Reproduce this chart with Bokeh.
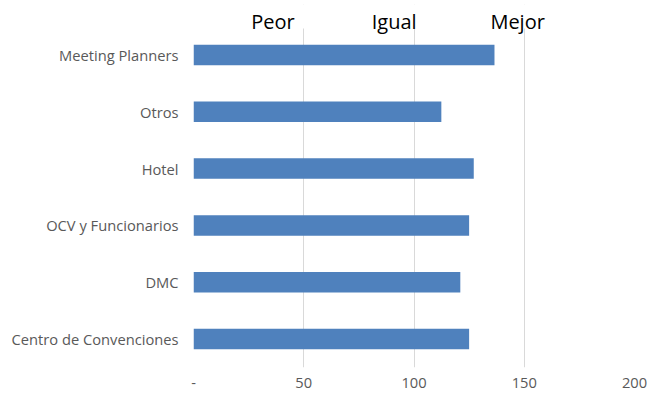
from bokeh.plotting import figure
from bokeh.models import FixedTicker, Range1d, BoxAnnotation
from bokeh.core.properties import value
from bokeh.embed import file_html
from bokeh.resources import INLINE

categories = ["Meeting Planners", "Otros", "Hotel", "OCV y Funcionarios", "DMC", "Centro de Convenciones"]
values = [136.5, 112.4, 127.1, 125.0, 121.0, 125.0]
x_ticks = [0, 50, 100, 150, 200]
x_tick_labels = ["-", "50", "100", "150", "200"]
top_labels = ["Peor", "Igual", "Mejor"]
top_label_x = [36, 91, 147]

FONT = "Open Sans"
W, H = 647, 400
LEFT, RIGHT = 193, 13
FRAME_TOP, BAND_TOP, BAND_BOTTOM = 4, 26, 367
n = len(categories)
band_px = (BAND_BOTTOM - BAND_TOP) / n
y_top = n - 0.5 + (BAND_TOP - FRAME_TOP) / band_px

# category positions: first category at the top
y_pos = [n - 1 - i for i in range(n)]

p = figure(x_range=Range1d(0, 200), y_range=Range1d(-0.5, y_top),
           width=W, height=H, output_backend="svg", toolbar_location=None,
           min_border_left=LEFT, min_border_right=RIGHT,
           min_border_top=FRAME_TOP, min_border_bottom=H - BAND_BOTTOM)

p.outline_line_color = None
p.background_fill_color = "white"
p.border_fill_color = "white"

p.ygrid.grid_line_color = None
p.xgrid.grid_line_color = "#D9D9D9"
p.xgrid.grid_line_width = 1

# keep the grid out of the header strip that holds the scale words
p.add_layout(BoxAnnotation(bottom=n - 0.5 - 2 / band_px, fill_color="white", fill_alpha=1,
                           line_color=None, level="underlay"))

p.hbar(y=y_pos, right=values, left=0, height=0.36, color="#4F81BD", line_color=None)

p.text(x=top_label_x, y=[n - 0.5 + 5 / band_px] * len(top_labels), text=top_labels,
       text_align="center", text_baseline="middle",
       text_font=value(FONT), text_font_size="20px", text_color="#000000")

p.xaxis.ticker = FixedTicker(ticks=x_ticks)
p.xaxis.major_label_overrides = {t: l for t, l in zip(x_ticks, x_tick_labels)}
p.yaxis.ticker = FixedTicker(ticks=y_pos)
p.yaxis.major_label_overrides = {yp: c for yp, c in zip(y_pos, categories)}
for ax in (p.xaxis, p.yaxis):
    ax.axis_line_color = None
    ax.major_tick_line_color = None
    ax.minor_tick_line_color = None
    ax.major_tick_out = 0
    ax.major_tick_in = 0
    ax.major_label_text_color = "#595959"
    ax.major_label_text_font = FONT
    ax.major_label_text_font_size = "14.7px"
p.xaxis.major_label_standoff = 10
p.yaxis.major_label_standoff = 15

open("out.html", "w").write(file_html(p, INLINE))
